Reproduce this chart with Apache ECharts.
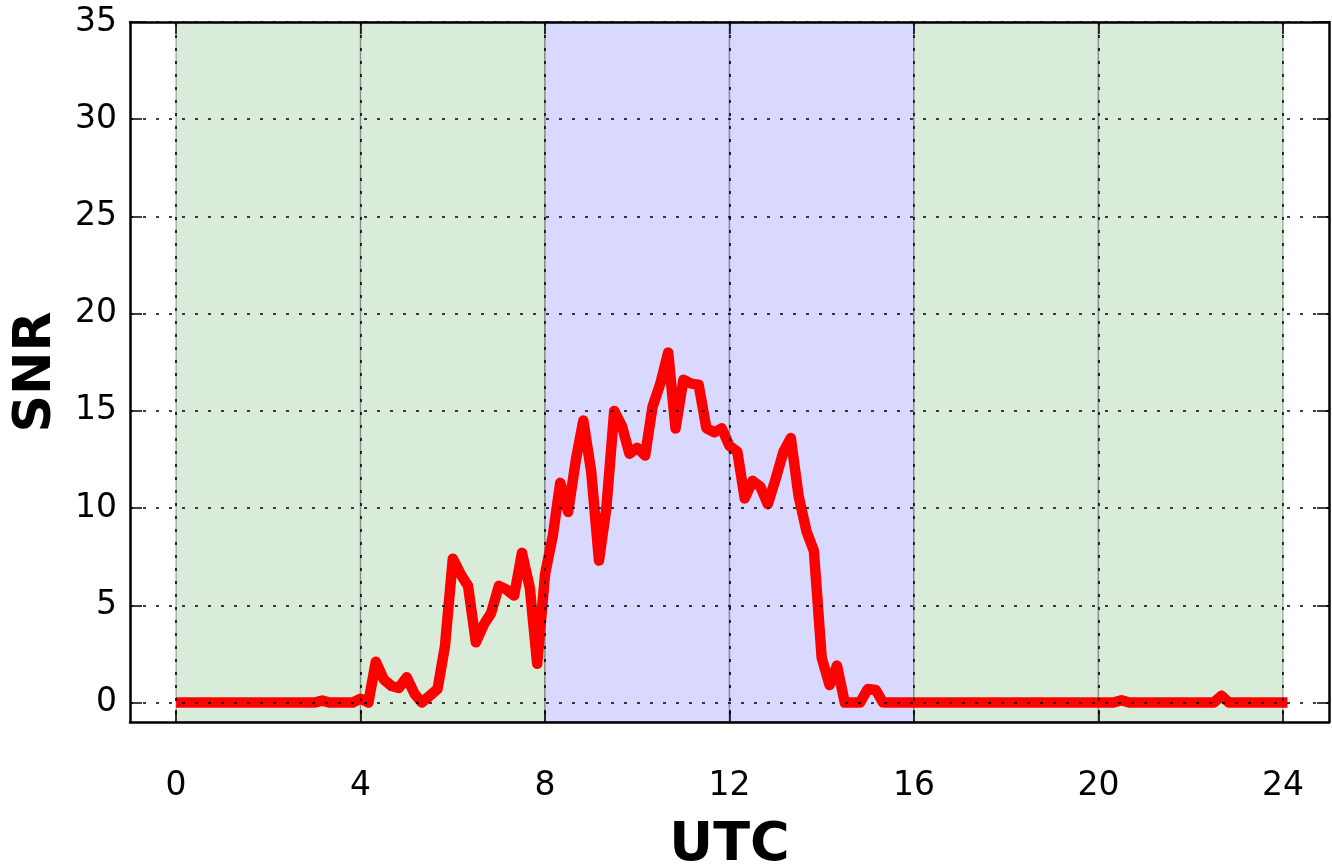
<!DOCTYPE html>
<html>
<head>
<meta charset="utf-8">
<script src="https://cdn.jsdelivr.net/npm/echarts@6/dist/echarts.min.js"></script>
<style>
  html, body { margin: 0; padding: 0; background: #fff; }
  #main { width: 1332px; height: 865px; }
</style>
</head>
<body>
<div id="main"></div>
<script>
// SNR over the day, 10 minute steps (hours UTC)
const utcHours = [
  0, 3.0, 3.17, 3.33, 3.83, 4.0, 4.17, 4.33, 4.5, 4.67, 4.83, 5.0, 5.17, 5.33, 5.5, 5.67, 5.83,
  6.0, 6.17, 6.33, 6.5, 6.67, 6.83, 7.0, 7.17, 7.33, 7.5, 7.67, 7.83,
  8.0, 8.17, 8.33, 8.5, 8.67, 8.83, 9.0, 9.17, 9.33, 9.5, 9.67, 9.83,
  10.0, 10.17, 10.33, 10.5, 10.67, 10.83, 11.0, 11.17, 11.33, 11.5, 11.67, 11.83,
  12.0, 12.17, 12.33, 12.5, 12.67, 12.83, 13.0, 13.17, 13.33, 13.5, 13.67, 13.83,
  14.0, 14.17, 14.33, 14.5, 14.67, 14.83, 15.0, 15.17, 15.33,
  20.33, 20.5, 20.67, 22.5, 22.67, 22.83, 24.1
];
const snrValues = [
  0, 0, 0.1, 0, 0, 0.2, 0, 2.1, 1.2, 0.85, 0.75, 1.3, 0.45, 0, 0.35, 0.7, 2.9,
  7.4, 6.6, 6.0, 3.1, 4.0, 4.6, 6.0, 5.8, 5.5, 7.7, 5.9, 2.0,
  6.6, 8.6, 11.3, 9.8, 12.5, 14.5, 11.9, 7.3, 10.0, 15.0, 14.2, 12.8,
  13.1, 12.7, 15.2, 16.4, 18.0, 14.1, 16.6, 16.4, 16.35, 14.1, 13.9, 14.1,
  13.2, 12.9, 10.5, 11.4, 11.1, 10.2, 11.5, 12.9, 13.6, 10.6, 8.8, 7.8,
  2.3, 0.9, 1.9, 0, 0, 0, 0.7, 0.65, 0,
  0, 0.12, 0, 0, 0.35, 0, 0
];

// tick positions
const xTicks = [0, 4, 8, 12, 16, 20, 24];
const yTicks = [0, 5, 10, 15, 20, 25, 30, 35];

// shaded 4 hour bands
const bandEdges = [0, 4, 8, 12, 16, 20, 24];
const bandColors = ['#d9ecd9', '#d9ecd9', '#d9d9ff', '#d9d9ff', '#d9ecd9', '#d9ecd9'];

const font = 'DejaVu Sans';

const bands = [];
for (let i = 0; i < bandColors.length; i++) {
  bands.push([
    { xAxis: bandEdges[i], itemStyle: { color: bandColors[i], borderColor: 'rgba(0,0,0,0.28)', borderWidth: 1.5 } },
    { xAxis: bandEdges[i + 1] }
  ]);
}

const points = utcHours.map((h, i) => [h, snrValues[i]]);

const gridDots = { color: '#000', width: 1.6, type: [3, 10] };
const spine = { show: true, onZero: false, lineStyle: { color: '#000', width: 2.5 } };

function axis(extra, ticks, withLabels) {
  return Object.assign({
    type: 'value', z: 10,
    axisLine: spine,
    axisTick: { show: true, inside: true, length: 12, customValues: ticks, lineStyle: { color: '#000', width: 1.5 } },
    axisLabel: withLabels
      ? { fontFamily: font, fontSize: 33, color: '#000', customValues: ticks }
      : { show: false },
    splitLine: { show: withLabels, lineStyle: gridDots }
  }, extra);
}

const xMain = axis({ min: -1, max: 25, position: 'bottom',
  name: 'UTC', nameLocation: 'middle', nameGap: 97,
  nameTextStyle: { fontFamily: font, fontSize: 54, fontWeight: 'bold', color: '#000' } }, xTicks, true);
xMain.axisLabel.margin = 48;
const yMain = axis({ min: -1, max: 35, position: 'left',
  name: 'SNR', nameLocation: 'middle', nameGap: 68,
  nameTextStyle: { fontFamily: font, fontSize: 52, fontWeight: 'bold', color: '#000' } }, yTicks, true);
yMain.axisLabel.margin = 13;

const chart = echarts.init(document.getElementById('main'));
chart.setOption({
  animation: false,
  backgroundColor: '#fff',
  grid: { left: 130, right: 3, top: 22, bottom: 143, containLabel: false, outerBoundsMode: 'none' },
  xAxis: [xMain, axis({ min: -1, max: 25, position: 'top' }, xTicks, false)],
  yAxis: [yMain, axis({ min: -1, max: 35, position: 'right' }, yTicks, false)],
  series: [{
    type: 'line',
    data: [],
    silent: true,
    markArea: { silent: true, data: bands }
  }, {
    type: 'line',
    data: points,
    showSymbol: false,
    symbol: 'none',
    lineStyle: { color: '#ff0000', width: 10.5, join: 'round' }
  }]
});
</script>
</body>
</html>
